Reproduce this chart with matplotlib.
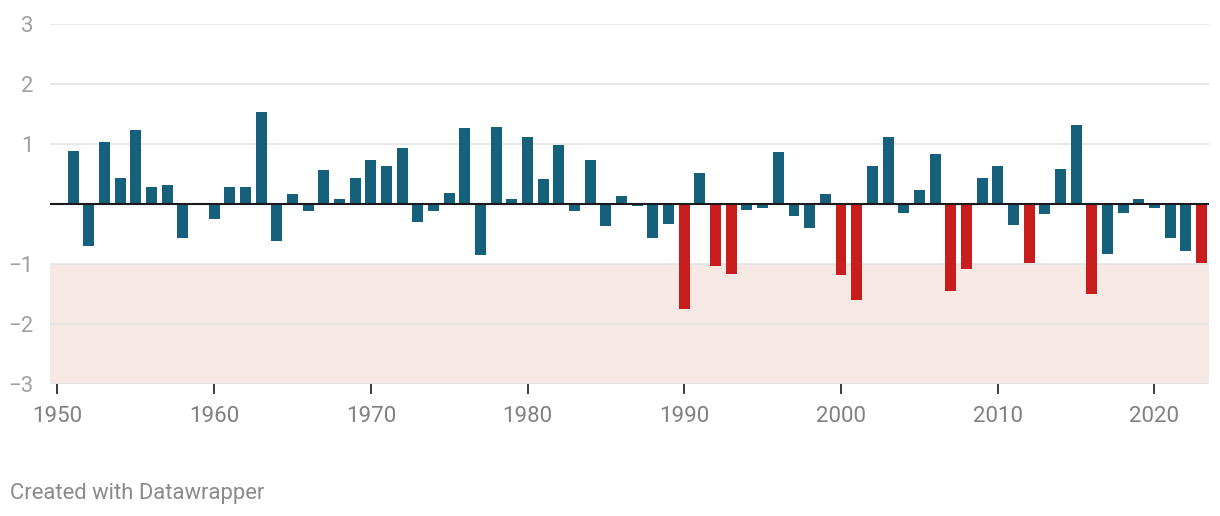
import matplotlib.pyplot as plt

plt.rcParams['font.family'] = ['Roboto', 'DejaVu Sans']

# Yearly values
years = list(range(1951, 2024))
values = [
    0.88, -0.70, 1.03, 0.44, 1.23, 0.28, 0.31, -0.57, 0.0, -0.25,   # 1951-1960
    0.28, 0.29, 1.54, -0.62, 0.16, -0.12, 0.56, 0.08, 0.44, 0.73,   # 1961-1970
    0.63, 0.94, -0.30, -0.12, 0.18, 1.26, -0.85, 1.29, 0.08, 1.11,  # 1971-1980
    0.41, 0.98, -0.12, 0.73, -0.37, 0.13, -0.03, -0.57, -0.33, -1.75,  # 1981-1990
    0.51, -1.03, -1.17, -0.10, -0.07, 0.86, -0.20, -0.40, 0.16, -1.18,  # 1991-2000
    -1.60, 0.64, 1.11, -0.15, 0.23, 0.84, -1.45, -1.08, 0.44, 0.64,  # 2001-2010
    -0.35, -0.98, -0.17, 0.58, 1.31, -1.50, -0.83, -0.15, 0.08, -0.07,  # 2011-2020
    -0.57, -0.78, -0.98,                                             # 2021-2023
]
threshold = -0.95
xticks = [1950, 1960, 1970, 1980, 1990, 2000, 2010, 2020]
yticks = [-3, -2, -1, 0, 1, 2, 3]

blue = '#15607a'
red = '#c71e1d'
colors = [red if v <= threshold else blue for v in values]

fig = plt.figure(figsize=(12.2, 5.16), dpi=100)
ax = fig.add_axes([50 / 1220, 1 - 384 / 516, 1159 / 1220, 360 / 516])

# shaded band below -1
ax.axhspan(-3, -1, color='#f6e9e4', zorder=0, lw=0)

# gridlines
for y in yticks:
    if y != 0:
        ax.axhline(y, color='#e3e3e3', lw=1.2, zorder=1)

ax.bar(years, values, width=0.7, color=colors, zorder=2)
ax.axhline(0, color='#1a1a1a', lw=1.5, zorder=3)

ax.set_xlim(1949.53, 2023.48)
ax.set_ylim(-3, 3)

for s in ax.spines.values():
    s.set_visible(False)

ax.set_xticks(xticks)
ax.set_xticklabels([str(t) for t in xticks], fontsize=16, color='#808080')
ax.tick_params(axis='x', length=7, width=1.2, color='#1a1a1a', pad=9)

ax.set_yticks(yticks)
ax.set_yticklabels([str(t).replace('-', '\u2212') if t != 0 else '' for t in yticks],
                   fontsize=16, color='#a0a0a0')
ax.tick_params(axis='y', length=0, pad=12)

fig.text(10 / 1220, 1 - 493 / 516, 'Created with Datawrapper', fontsize=15.8,
         color='#8a8a8a', va='center', ha='left')

fig.savefig('out.png', dpi=100)
